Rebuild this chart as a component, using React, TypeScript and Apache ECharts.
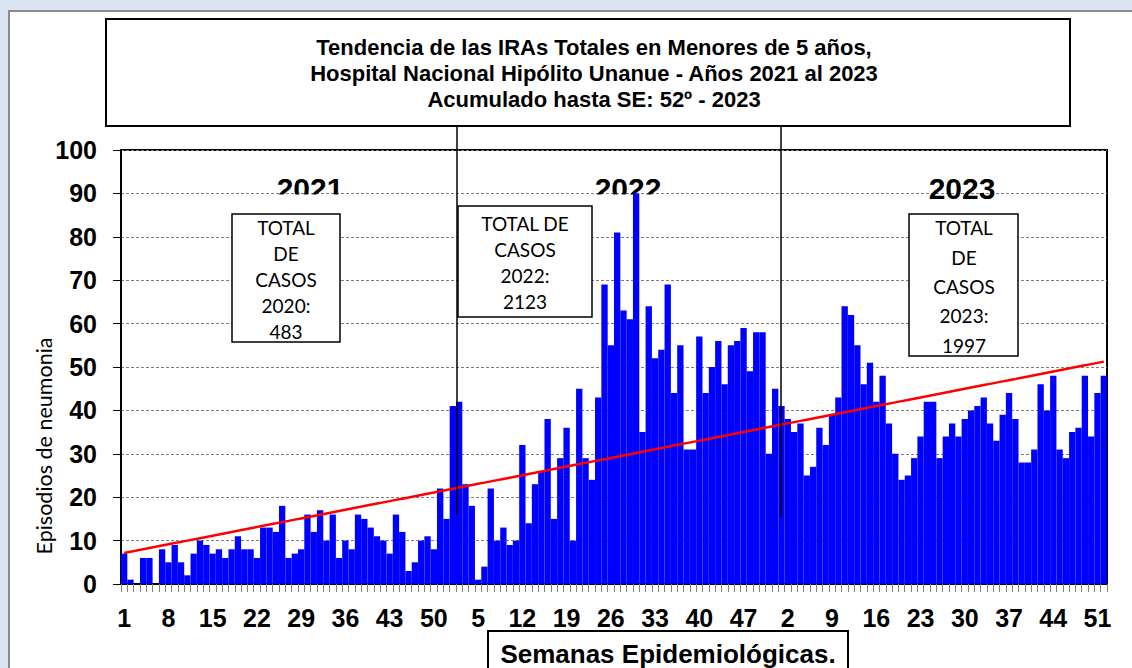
import React, { useEffect, useRef } from "react";
import * as echarts from "echarts";

// Weekly IRA cases (epidemiological weeks 1..52 of each year)
const cases2021 = [7,1,0,6,6,0,8,5,9,5,2,7,10,9,7,8,6,8,11,8,8,6,13,13,12,18,6,7,8,16,12,17,10,16,6,10,8,16,15,13,11,10,7,16,12,3,5,10,11,8,22,15];
const cases2022 = [41,42,23,18,1,4,22,10,13,9,10,32,14,23,26,38,15,29,36,10,45,29,24,43,69,55,81,63,61,90,35,64,52,54,69,44,55,31,31,57,44,50,56,46,55,56,59,49,58,58,30,45];
const cases2023 = [41,38,35,37,25,27,36,32,39,43,64,62,55,46,51,42,48,37,30,24,25,29,34,42,42,29,34,37,34,38,40,41,43,37,33,39,44,38,28,28,31,46,40,48,31,29,35,36,48,34,44,48];

const yearLabels = ["2021", "2022", "2023"];
const totalBoxTexts = [
  "TOTAL\nDE\nCASOS\n2020:\n483",
  "TOTAL DE\nCASOS\n2022:\n2123",
  "TOTAL\nDE\nCASOS\n2023:\n1997",
];
const titleLines = [
  "Tendencia de las IRAs Totales en Menores de 5 años,",
  "Hospital Nacional Hipólito Unanue - Años 2021 al 2023",
  "Acumulado hasta SE: 52º - 2023",
];
const yAxisName = "Episodios de neumonia";
const xAxisName = "Semanas Epidemiológicas.";

const allCases = [...cases2021, ...cases2022, ...cases2023];
const weekLabels = [
  ...cases2021.map((_, i) => String(i + 1)),
  ...cases2022.map((_, i) => String(i + 1)),
  ...cases2023.map((_, i) => String(i + 1)),
];

// least-squares linear trend of the weekly series
function linearTrend(values: number[]): number[] {
  const n = values.length;
  let sx = 0, sy = 0, sxy = 0, sxx = 0;
  values.forEach((v, i) => {
    sx += i; sy += v; sxy += i * v; sxx += i * i;
  });
  const slope = (n * sxy - sx * sy) / (n * sxx - sx * sx);
  const intercept = (sy - slope * sx) / n;
  return values.map((_, i) => +(intercept + slope * i).toFixed(3));
}
const trend = linearTrend(allCases);

const AXIS_FONT = '"Liberation Sans", Arial, sans-serif';
const BOX_FONT = 'Lato, "Open Sans", sans-serif';

function txt(text: string, x: number, y: number, font: string, extra: any = {}) {
  return {
    type: "text",
    x,
    y,
    z: 101,
    ...extra,
    style: {
      text,
      font,
      fill: "#000",
      align: "center",
      verticalAlign: "middle",
      textAlign: "center",
      textVerticalAlign: "middle",
      ...(extra.style || {}),
    },
  };
}

export default function App() {
  const ref = useRef<HTMLDivElement>(null);
  useEffect(() => {
    if (!ref.current) return;
    const chart = echarts.init(ref.current, undefined, { renderer: "svg" });
    const option: any = {
      animation: false,
      backgroundColor: "#dbe5f1",
      grid: {
        left: 121,
        right: 25,
        top: 150,
        bottom: 84,
        show: true,
        borderColor: "#000",
        borderWidth: 2,
        backgroundColor: "transparent",
      },
      xAxis: {
        type: "category",
        data: weekLabels,
        boundaryGap: true,
        axisLine: { lineStyle: { color: "#000", width: 2 } },
        axisTick: { show: true, interval: 0, length: 8, lineStyle: { color: "#808080", width: 1 } },
        axisLabel: {
          interval: (i: number) => i % 7 === 0,
          fontSize: 25,
          fontWeight: "bold",
          fontFamily: AXIS_FONT,
          color: "#000",
          margin: 21,
        },
        splitLine: { show: false },
      },
      yAxis: {
        type: "value",
        min: 0,
        max: 100,
        interval: 10,
        axisLine: { show: true, lineStyle: { color: "#000", width: 2 } },
        axisTick: { show: true, length: 8, lineStyle: { color: "#000", width: 1 } },
        axisLabel: {
          fontSize: 25,
          fontWeight: "bold",
          fontFamily: AXIS_FONT,
          color: "#000",
          margin: 24,
        },
        splitLine: { show: true, lineStyle: { color: "#7f7f7f", type: [3, 2], width: 1 } },
      },
      series: [
        {
          type: "bar",
          data: allCases,
          barCategoryGap: "0%",
          barGap: "0%",
          itemStyle: { color: "#0000ff" },
          z: 2,
        },
        {
          type: "line",
          data: trend,
          symbol: "none",
          lineStyle: { color: "#ff0000", width: 2.5 },
          z: 3,
        },
      ],
      graphic: [
        // white panel
        {
          type: "rect",
          z: -100,
          shape: { x: 9, y: 11, width: 1160, height: 700 },
          style: { fill: "#ffffff", stroke: "#8c8c8c", lineWidth: 2 },
        },
        // title box
        {
          type: "rect",
          z: 100,
          shape: { x: 106, y: 19, width: 964, height: 107 },
          style: { fill: "#ffffff", stroke: "#000", lineWidth: 2 },
        },
        txt(titleLines.join("\n"), 594, 73, `bold 22px ${AXIS_FONT}`, { style: { lineHeight: 26 } }),
        // year labels (2021 & 2022 clipped at the 90 gridline)
        txt(yearLabels[0], 310, 188, `bold 30px ${AXIS_FONT}`, { z: 1 }),
        txt(yearLabels[1], 628, 188, `bold 30px ${AXIS_FONT}`, { z: 1 }),
        { type: "rect", z: 1.5, shape: { x: 270, y: 194.5, width: 80, height: 8 }, style: { fill: "#fff" } },
        { type: "rect", z: 1.5, shape: { x: 588, y: 194.5, width: 80, height: 8 }, style: { fill: "#fff" } },
        txt(yearLabels[2], 962, 188, `bold 30px ${AXIS_FONT}`, { z: 1 }),
        // total boxes
        {
          type: "rect",
          z: 100,
          shape: { x: 232, y: 214, width: 108, height: 128 },
          style: { fill: "#fff", stroke: "#000", lineWidth: 1.5 },
        },
        txt(totalBoxTexts[0], 286, 279, `19px ${BOX_FONT}`, { style: { lineHeight: 26 } }),
        {
          type: "rect",
          z: 100,
          shape: { x: 458, y: 206, width: 134, height: 111 },
          style: { fill: "#fff", stroke: "#000", lineWidth: 1.5 },
        },
        txt(totalBoxTexts[1], 525, 262, `19px ${BOX_FONT}`, { style: { lineHeight: 26 } }),
        {
          type: "rect",
          z: 100,
          shape: { x: 909, y: 214, width: 109, height: 142 },
          style: { fill: "#fff", stroke: "#000", lineWidth: 1.5 },
        },
        txt(totalBoxTexts[2], 964, 286.5, `19px ${BOX_FONT}`, { style: { lineHeight: 29.3 } }),
        // separator lines
        {
          type: "line",
          z: 102,
          shape: { x1: 457, y1: 126, x2: 457, y2: 515 },
          style: { stroke: "#000", lineWidth: 1.5 },
        },
        {
          type: "line",
          z: 102,
          shape: { x1: 781, y1: 126, x2: 781, y2: 517 },
          style: { stroke: "#000", lineWidth: 1.5 },
        },
        // y axis name
        txt(yAxisName, 44, 446, `21.5px ${BOX_FONT}`, { rotation: Math.PI / 2 }),
        // x axis name box
        {
          type: "rect",
          z: 100,
          shape: { x: 488, y: 631, width: 360, height: 60 },
          style: { fill: "#fff", stroke: "#000", lineWidth: 2 },
        },
        txt(xAxisName, 668, 654, `bold 26px ${AXIS_FONT}`),
      ],
    };
    chart.setOption(option);
    return () => chart.dispose();
  }, []);
  return (
    <div
      ref={ref}
      style={{ position: "fixed", left: 0, top: 0, width: 1132, height: 668 }}
    />
  );
}
